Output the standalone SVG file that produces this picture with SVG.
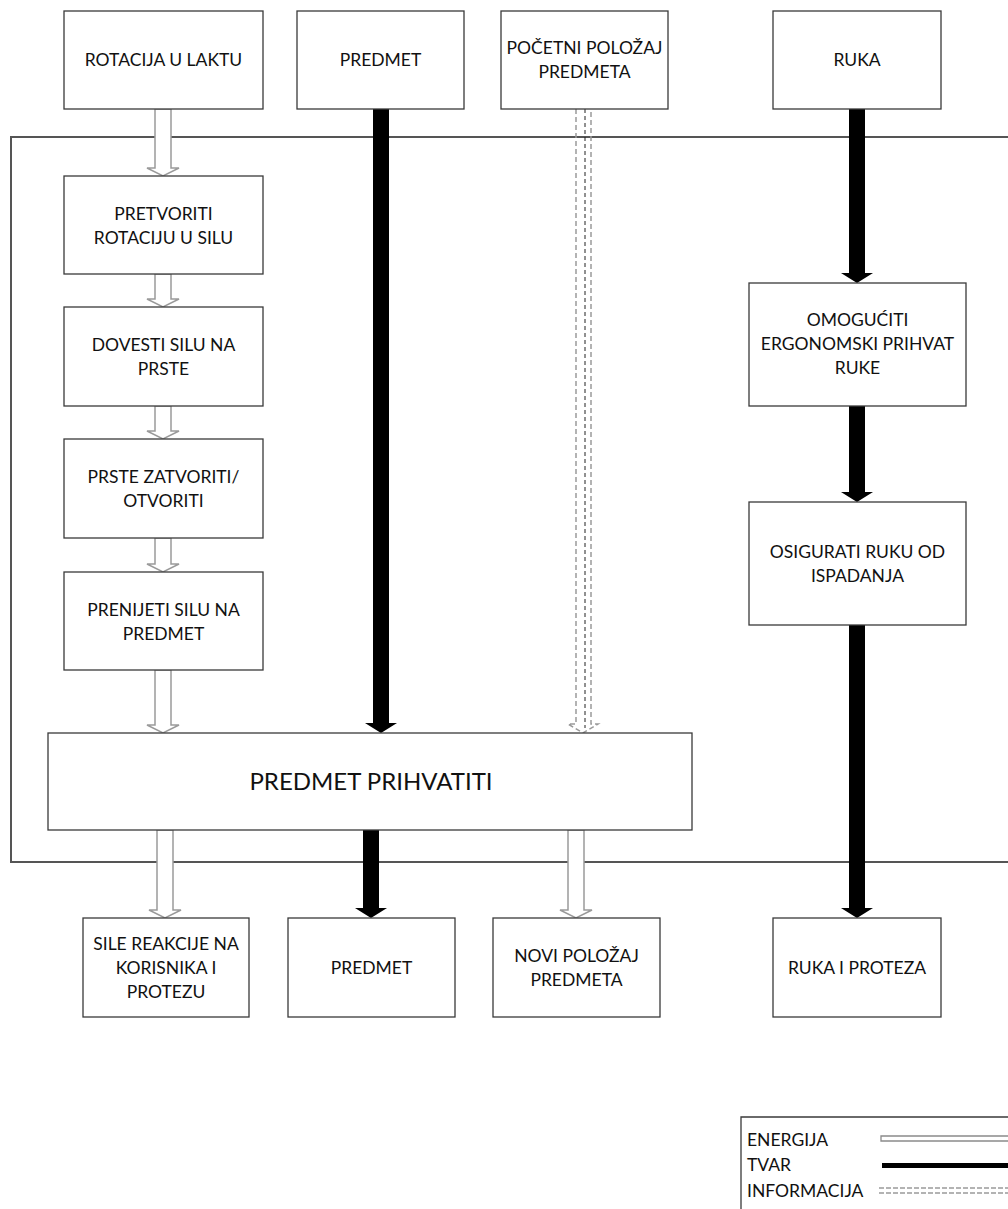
<svg xmlns="http://www.w3.org/2000/svg" width="1008" height="1209" viewBox="0 0 1008 1209">
<style>
.box{fill:#fff;stroke:#3a3a3a;stroke-width:1.3}
.t{font-family:Lato,"Liberation Sans",sans-serif;font-size:17.5px;fill:#111;text-anchor:middle}
.big{font-size:24px}
.lg{font-family:Lato,"Liberation Sans",sans-serif;font-size:17.5px;fill:#111}
.en{fill:#fff;stroke:#9a9a9a;stroke-width:1.5}
.tv{fill:#000;stroke:none}
.inf{fill:none;stroke:#9a9a9a;stroke-width:1.5;stroke-dasharray:5,3}
.infc{fill:none;stroke:#222;stroke-width:1;stroke-dasharray:4,3}
</style>
<rect width="1008" height="1209" fill="#fff"/>
<g id="boundary"><path d="M1010,137 H11 V862 H1010" fill="none" stroke="#555" stroke-width="2"/></g>
<g id="connectors">
<path class="en" d="M155,109 V168 H147 L163,176 L179,168 H171 V109 Z"/>
<path class="en" d="M155,274 V299 H147 L163,307 L179,299 H171 V274 Z"/>
<path class="en" d="M155,406 V431 H147 L163,439 L179,431 H171 V406 Z"/>
<path class="en" d="M155,538 V564 H147 L163,572 L179,564 H171 V538 Z"/>
<path class="en" d="M155,670 V725 H147 L163,733 L179,725 H171 V670 Z"/>
<path class="en" d="M157,830 V910 H149 L165,918 L181,910 H173 V830 Z"/>
<path class="en" d="M568,830 V910 H560 L576,918 L592,910 H584 V830 Z"/>
<path class="tv" d="M373,109 V723 H365 L381,733 L397,723 H389 V109 Z"/>
<path class="tv" d="M363,830 V908 H355 L371,918 L387,908 H379 V830 Z"/>
<path class="tv" d="M849,109 V273 H841 L857,283 L873,273 H865 V109 Z"/>
<path class="tv" d="M849,406 V492 H841 L857,502 L873,492 H865 V406 Z"/>
<path class="tv" d="M849,625 V908 H841 L857,918 L873,908 H865 V625 Z"/>
<path class="inf" d="M576,109 V724 H568 L583,733 L598,724 H591 V109"/>
<line class="infc" x1="585" y1="109" x2="585" y2="728"/>
</g>
<g id="n_rotacija"><rect class="box" x="64" y="11" width="199" height="98"/><text class="t" x="163.5" y="66">ROTACIJA U LAKTU</text></g>
<g id="n_predmet_in"><rect class="box" x="297" y="11" width="167" height="98"/><text class="t" x="380.5" y="66">PREDMET</text></g>
<g id="n_pocetni"><rect class="box" x="501" y="11" width="167" height="98"/><text class="t" x="584.5" y="54">POČETNI POLOŽAJ</text><text class="t" x="584.5" y="78">PREDMETA</text></g>
<g id="n_ruka"><rect class="box" x="773" y="11" width="168" height="98"/><text class="t" x="857" y="66">RUKA</text></g>
<g id="n_pretvoriti"><rect class="box" x="64" y="176" width="199" height="98"/><text class="t" x="163.5" y="220">PRETVORITI</text><text class="t" x="163.5" y="244">ROTACIJU U SILU</text></g>
<g id="n_dovesti"><rect class="box" x="64" y="307" width="199" height="99"/><text class="t" x="163.5" y="351">DOVESTI SILU NA</text><text class="t" x="163.5" y="375">PRSTE</text></g>
<g id="n_prste"><rect class="box" x="64" y="439" width="199" height="99"/><text class="t" x="163.5" y="483">PRSTE ZATVORITI/</text><text class="t" x="163.5" y="507">OTVORITI</text></g>
<g id="n_prenijeti"><rect class="box" x="64" y="572" width="199" height="98"/><text class="t" x="163.5" y="616">PRENIJETI SILU NA</text><text class="t" x="163.5" y="640">PREDMET</text></g>
<g id="n_prihvatiti"><rect class="box" x="48" y="733" width="644" height="97"/><text class="t big" x="371" y="790">PREDMET PRIHVATITI</text></g>
<g id="n_omoguciti"><rect class="box" x="749" y="283" width="217" height="123"/><text class="t" x="857.5" y="326">OMOGUĆITI</text><text class="t" x="857.5" y="350">ERGONOMSKI PRIHVAT</text><text class="t" x="857.5" y="374">RUKE</text></g>
<g id="n_osigurati"><rect class="box" x="749" y="502" width="217" height="123"/><text class="t" x="857.5" y="558">OSIGURATI RUKU OD</text><text class="t" x="857.5" y="582">ISPADANJA</text></g>
<g id="n_sile"><rect class="box" x="83" y="918" width="166" height="99"/><text class="t" x="166" y="950">SILE REAKCIJE NA</text><text class="t" x="166" y="974">KORISNIKA I</text><text class="t" x="166" y="998">PROTEZU</text></g>
<g id="n_predmet_out"><rect class="box" x="288" y="918" width="167" height="99"/><text class="t" x="371.5" y="974">PREDMET</text></g>
<g id="n_novi"><rect class="box" x="493" y="918" width="167" height="99"/><text class="t" x="576.5" y="962">NOVI POLOŽAJ</text><text class="t" x="576.5" y="986">PREDMETA</text></g>
<g id="n_ruka_out"><rect class="box" x="773" y="918" width="168" height="99"/><text class="t" x="857" y="974">RUKA I PROTEZA</text></g>
<g id="legend">
<path d="M1010,1117 H741 V1212" fill="none" stroke="#3a3a3a" stroke-width="1.3"/>
<text class="lg" x="747" y="1146">ENERGIJA</text>
<text class="lg" x="747" y="1171">TVAR</text>
<text class="lg" x="747" y="1197">INFORMACIJA</text>
<path d="M1010,1136 H881 V1141 H1010" fill="#fff" stroke="#8a8a8a" stroke-width="1.3"/>
<rect x="882" y="1163" width="130" height="5" fill="#000"/>
<line x1="879" y1="1188" x2="1010" y2="1188" stroke="#9a9a9a" stroke-width="1.3" stroke-dasharray="5,2"/>
<line x1="879" y1="1193" x2="1010" y2="1193" stroke="#9a9a9a" stroke-width="1.3" stroke-dasharray="5,2"/>
</g>
</svg>
